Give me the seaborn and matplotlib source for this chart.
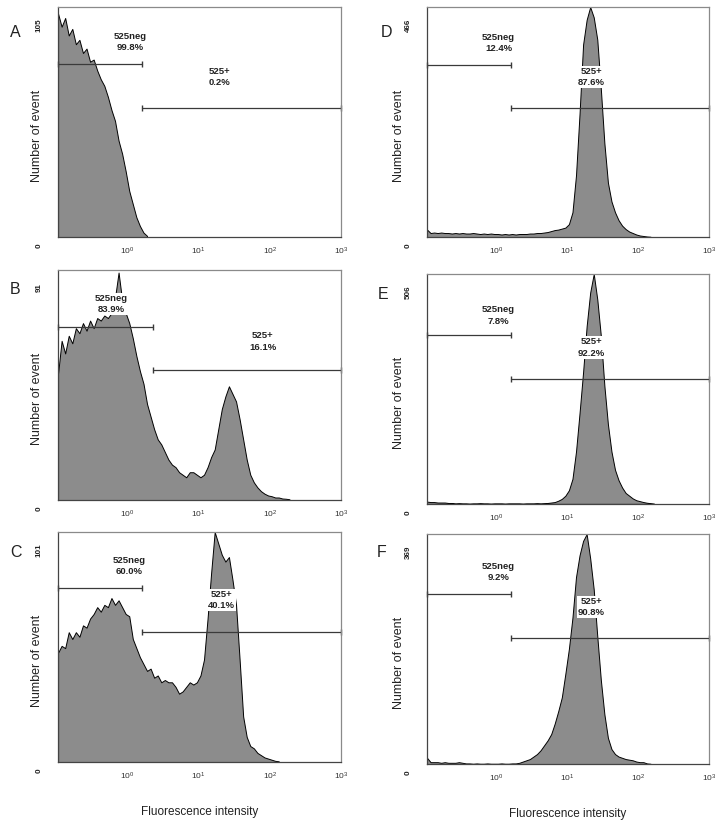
import numpy as np
import matplotlib
matplotlib.use('Agg')
import matplotlib.pyplot as plt
from matplotlib.ticker import FixedLocator, LogLocator, NullFormatter
import seaborn as sns

# event counts per channel (channel width 0.05 decade, first channel starts at 10^-1)
counts_a = [102, 96, 100, 92, 95, 88, 90, 84, 86, 80, 81, 76, 72, 69, 64, 58, 53, 44,
            38, 30, 21, 15, 9, 5, 2, 0.5]
counts_b = [50, 63, 58, 65, 62, 68, 66, 70, 67, 71, 68, 72, 71, 73, 72, 74, 80, 90, 79,
            74, 70, 64, 57, 51, 46, 38, 33, 28, 24, 22, 19, 16, 14, 13, 11, 10, 9, 11, 11,
            10, 9, 10, 13, 17, 20, 28, 36, 41, 45, 42, 39, 32, 24, 16, 10, 7, 5, 3.5, 2.5,
            1.8, 1.5, 1, 1, 0.6, 0.5, 0.3]
counts_c = [48, 51, 50, 57, 54, 57, 55, 60, 59, 63, 65, 68, 66, 69, 68, 72, 69, 71, 68,
            65, 64, 54, 50, 46, 43, 40, 41, 37, 38, 35, 36, 35, 35, 33, 30, 31, 33, 35, 34,
            35, 38, 45, 63, 83, 101, 96, 91, 88, 90, 80, 69, 45, 20, 11, 7, 6, 4, 3, 2, 1.5,
            1, 0.5, 0.3]
counts_d = [15, 8, 9, 8, 9, 8, 8, 7, 8, 7, 8, 7, 7, 8, 7, 6, 7, 6, 7, 6, 6, 5, 6, 5, 6,
            5, 6, 6, 6, 7, 7, 8, 8, 9, 10, 12, 14, 15, 17, 19, 26, 50, 125, 250, 390, 440,
            466, 445, 400, 300, 190, 110, 72, 50, 34, 23, 16, 11, 8, 5, 3, 2, 1, 0.5]
counts_e = [5, 4, 4, 3, 3, 3, 2, 2,
            1, 1.5, 1, 1, 0.5, 1, 1, 1.5, 1, 1, 0.5, 1, 1, 1, 0.5, 1, 1, 1, 1, 0.5, 1, 1,
            1, 1.5, 1, 1.5,
            2, 3, 4, 7, 11, 18, 30, 55, 115, 200, 290, 391, 465, 506, 450, 370, 260, 175,
            115, 75, 52, 36, 24, 18, 12, 8, 6, 4, 2.5, 1.5, 0.5]
counts_f = [10, 3, 3, 3, 2, 3, 2, 2, 2, 3, 2, 1,
            1, 0.5, 1, 0.5, 0.5, 1, 0.5, 0.5, 0.5, 1, 0.5, 0.5, 1, 1,
            2, 4, 6, 8, 12, 16, 22, 30, 38, 48, 65, 85, 107, 145, 185, 235, 300, 335, 358,
            369, 330, 280, 205, 135, 80, 42, 24, 16, 12, 10, 8, 7, 6, 4, 3, 3, 1, 0.5]

panel_letters = ['A', 'B', 'C', 'D', 'E', 'F']
y_max = [105, 91, 101, 466, 506, 369]
y_tick_step = [100, 10, 100, 100, 100, 100]
neg_pct = ['99.8%', '83.9%', '60.0%', '12.4%', '7.8%', '9.2%']
pos_pct = ['0.2%', '16.1%', '40.1%', '87.6%', '92.2%', '90.8%']
gate_split = [1.6, 2.3, 1.6, 1.6, 1.6, 1.6]

FILL = '#8c8c8c'
CHANNEL = 0.05
X_MIN = 10 ** (-1 + CHANNEL / 2)   # first channel centre sits on the left spine
X_MAX = 1000

# layout: axes boxes, gate heights and label spots (axes fraction in y)
axes_boxes = [
    [0.0809, 0.7117, 0.3947, 0.2798],
    [0.0809, 0.3917, 0.3947, 0.2798],
    [0.0809, 0.0730, 0.3947, 0.2798],
    [0.5955, 0.7117, 0.3933, 0.2798],
    [0.5955, 0.3870, 0.3933, 0.2798],
    [0.5955, 0.0705, 0.3933, 0.2798],
]
gate_heights = [(0.752, 0.561), (0.752, 0.565), (0.757, 0.565),
                (0.748, 0.561), (0.735, 0.543), (0.739, 0.548)]
neg_label_pos = [(1.1, 0.848), (0.6, 0.852), (1.05, 0.852),
                 (1.08, 0.843), (1.08, 0.82), (1.08, 0.835)]
pos_label_pos = [(19.5, 0.696), (80, 0.69), (21, 0.704),
                 (22, 0.696), (22, 0.68), (22, 0.683)]
letter_pos = [(0.014, 0.961), (0.014, 0.648), (0.014, 0.328),
              (0.531, 0.961), (0.527, 0.642), (0.526, 0.328)]


def draw_histogram(ax, counts, ymax, ystep):
    """Filled flow-cytometry histogram on a log intensity axis."""
    n = len(counts)
    centers = -1 + CHANNEL / 2 + CHANNEL * np.arange(n)
    sns.histplot(x=10 ** centers, weights=counts, bins=n,
                 binrange=(-1, -1 + CHANNEL * n), log_scale=True,
                 element='poly', fill=True, color=FILL, alpha=1,
                 edgecolor='black', linewidth=0.7, ax=ax)
    ax.set_xlim(X_MIN, X_MAX)
    ax.set_ylim(0, ymax)
    ax.set_xlabel('')
    ax.set_ylabel('Number of event', fontsize=9, color='#222222')

    ax.xaxis.set_major_locator(FixedLocator([1, 10, 100, 1000]))
    ax.xaxis.set_minor_locator(LogLocator(base=10, subs=range(2, 10)))
    ax.xaxis.set_minor_formatter(NullFormatter())
    ax.tick_params(axis='x', which='major', direction='out', length=4.5, width=0.8,
                   color='#444444', labelsize=6, labelcolor='#333333', pad=2)
    ax.tick_params(axis='x', which='minor', direction='out', length=2.5, width=0.7,
                   color='#444444')
    ax.set_yticks(np.arange(0, ymax + 1, ystep))
    ax.tick_params(axis='y', direction='out', length=3, width=0.8, color='#444444',
                   labelleft=False)

    for side in ['left', 'bottom']:
        ax.spines[side].set_color('#444444')
        ax.spines[side].set_linewidth(0.9)
    for side in ['top', 'right']:
        ax.spines[side].set_visible(True)
        ax.spines[side].set_color('#8a8a8a')
        ax.spines[side].set_linewidth(0.9)

    # count labels at bottom and top of y axis, rotated
    ax.annotate('0', xy=(0, 0), xycoords='axes fraction', xytext=(-19, -9),
                textcoords='offset pixels', rotation=90, ha='center', va='center',
                fontsize=5.8, fontweight='bold', color='#222222')
    ax.annotate(str(ymax), xy=(0, 1), xycoords='axes fraction', xytext=(-19, -18),
                textcoords='offset pixels', rotation=90, ha='center', va='center',
                fontsize=5.8, fontweight='bold', color='#222222')


def draw_gates(ax, split, heights, neg_pos, pos_pos, neg_text, pos_text):
    """Marker gates with their percentage labels."""
    trans = ax.get_xaxis_transform()
    ax.plot([X_MIN, split], [heights[0]] * 2, color='#3a3a3a', lw=0.9,
            marker='|', markersize=4, transform=trans, clip_on=False)
    ax.plot([split, X_MAX], [heights[1]] * 2, color='#3a3a3a', lw=0.9,
            marker='|', markersize=4, transform=trans, clip_on=False)
    box = dict(facecolor='white', edgecolor='none', pad=0.8)
    ax.text(neg_pos[0], neg_pos[1], '525neg\n' + neg_text, transform=trans,
            ha='center', va='center', fontsize=6.8, fontweight='bold',
            color='#222222', linespacing=1.35, bbox=box)
    ax.text(pos_pos[0], pos_pos[1], '525+\n' + pos_text, transform=trans,
            ha='center', va='center', fontsize=6.8, fontweight='bold',
            color='#222222', linespacing=1.35, bbox=box)


sns.set_style('white')
plt.rcParams['font.family'] = ['Liberation Sans', 'DejaVu Sans']
plt.rcParams['mathtext.default'] = 'regular'

fig = plt.figure(figsize=(7.17, 8.22), dpi=100)
all_counts = [counts_a, counts_b, counts_c, counts_d, counts_e, counts_f]

for i in range(6):
    ax = fig.add_axes(axes_boxes[i])
    draw_histogram(ax, all_counts[i], y_max[i], y_tick_step[i])
    draw_gates(ax, gate_split[i], gate_heights[i], neg_label_pos[i],
               pos_label_pos[i], neg_pct[i], pos_pct[i])
    if i < 3:
        ax.yaxis.set_label_coords(-0.053, 0.44)
    else:
        ax.yaxis.set_label_coords(-0.078, 0.44)
    if i in (2, 5):
        ax.set_xlabel('Fluorescence intensity', fontsize=8.5, color='#222222',
                      labelpad=17)
    fig.text(letter_pos[i][0], letter_pos[i][1], panel_letters[i], fontsize=11.5,
             ha='left', va='center', color='#222222')

fig.savefig('out.png', dpi=100)
